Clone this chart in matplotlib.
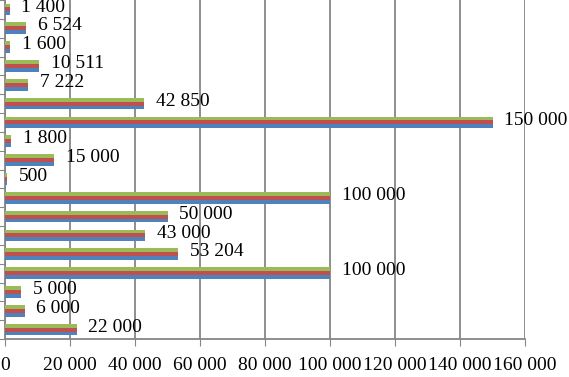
import matplotlib
matplotlib.use("Agg")
import matplotlib.pyplot as plt
import numpy as np

values = [22000, 6000, 5000, 100000, 53204, 43000, 50000, 100000, 500,
          15000, 1800, 150000, 42850, 7222, 10511, 1600, 6524, 1400]
series_colors = ["#4F81BD", "#C0504D", "#9BBB59"]
xticks = [0, 20000, 40000, 60000, 80000, 100000, 120000, 140000, 160000]
xtick_labels = ["0", "20 000", "40 000", "60 000", "80 000", "100 000",
                "120 000", "140 000", "160 000"]

def fmt(v):
    return f"{v:,}".replace(",", " ")

plt.rcParams['font.family'] = ['Liberation Serif', 'DejaVu Serif']

fig = plt.figure(figsize=(5.69, 3.77), dpi=100)
ax = fig.add_axes([5/569, 38/377, 520/569, 339/377])

y = np.arange(len(values))
h = 0.205
offsets = [-h, 0, h]
for off, c in zip(offsets, series_colors):
    ax.barh(y + off, values, height=h, color=c, zorder=3)

for yi, v in zip(y, values):
    ax.annotate(fmt(v), (v, yi + 0.12), xytext=(8.5, 0), textcoords='offset points',
                va='center', ha='left', fontsize=14, zorder=4)

ax.set_xlim(0, 160000)
ax.set_ylim(-0.5, len(values) - 0.5)
ax.set_xticks(xticks)
ax.set_xticklabels(xtick_labels, fontsize=14)
ax.set_yticks(np.arange(len(values) + 1) - 0.5)
ax.set_yticklabels([])
ax.tick_params(axis='x', length=5, color='#868686', pad=8)
ax.tick_params(axis='y', length=5, color='#868686')
ax.grid(axis='x', color='#868686', linewidth=1.3, zorder=1)
for s in ['top', 'right']:
    ax.spines[s].set_visible(False)
for s in ['left', 'bottom']:
    ax.spines[s].set_color('#868686')
    ax.spines[s].set_linewidth(1.3)

fig.savefig("out.png", dpi=100)
